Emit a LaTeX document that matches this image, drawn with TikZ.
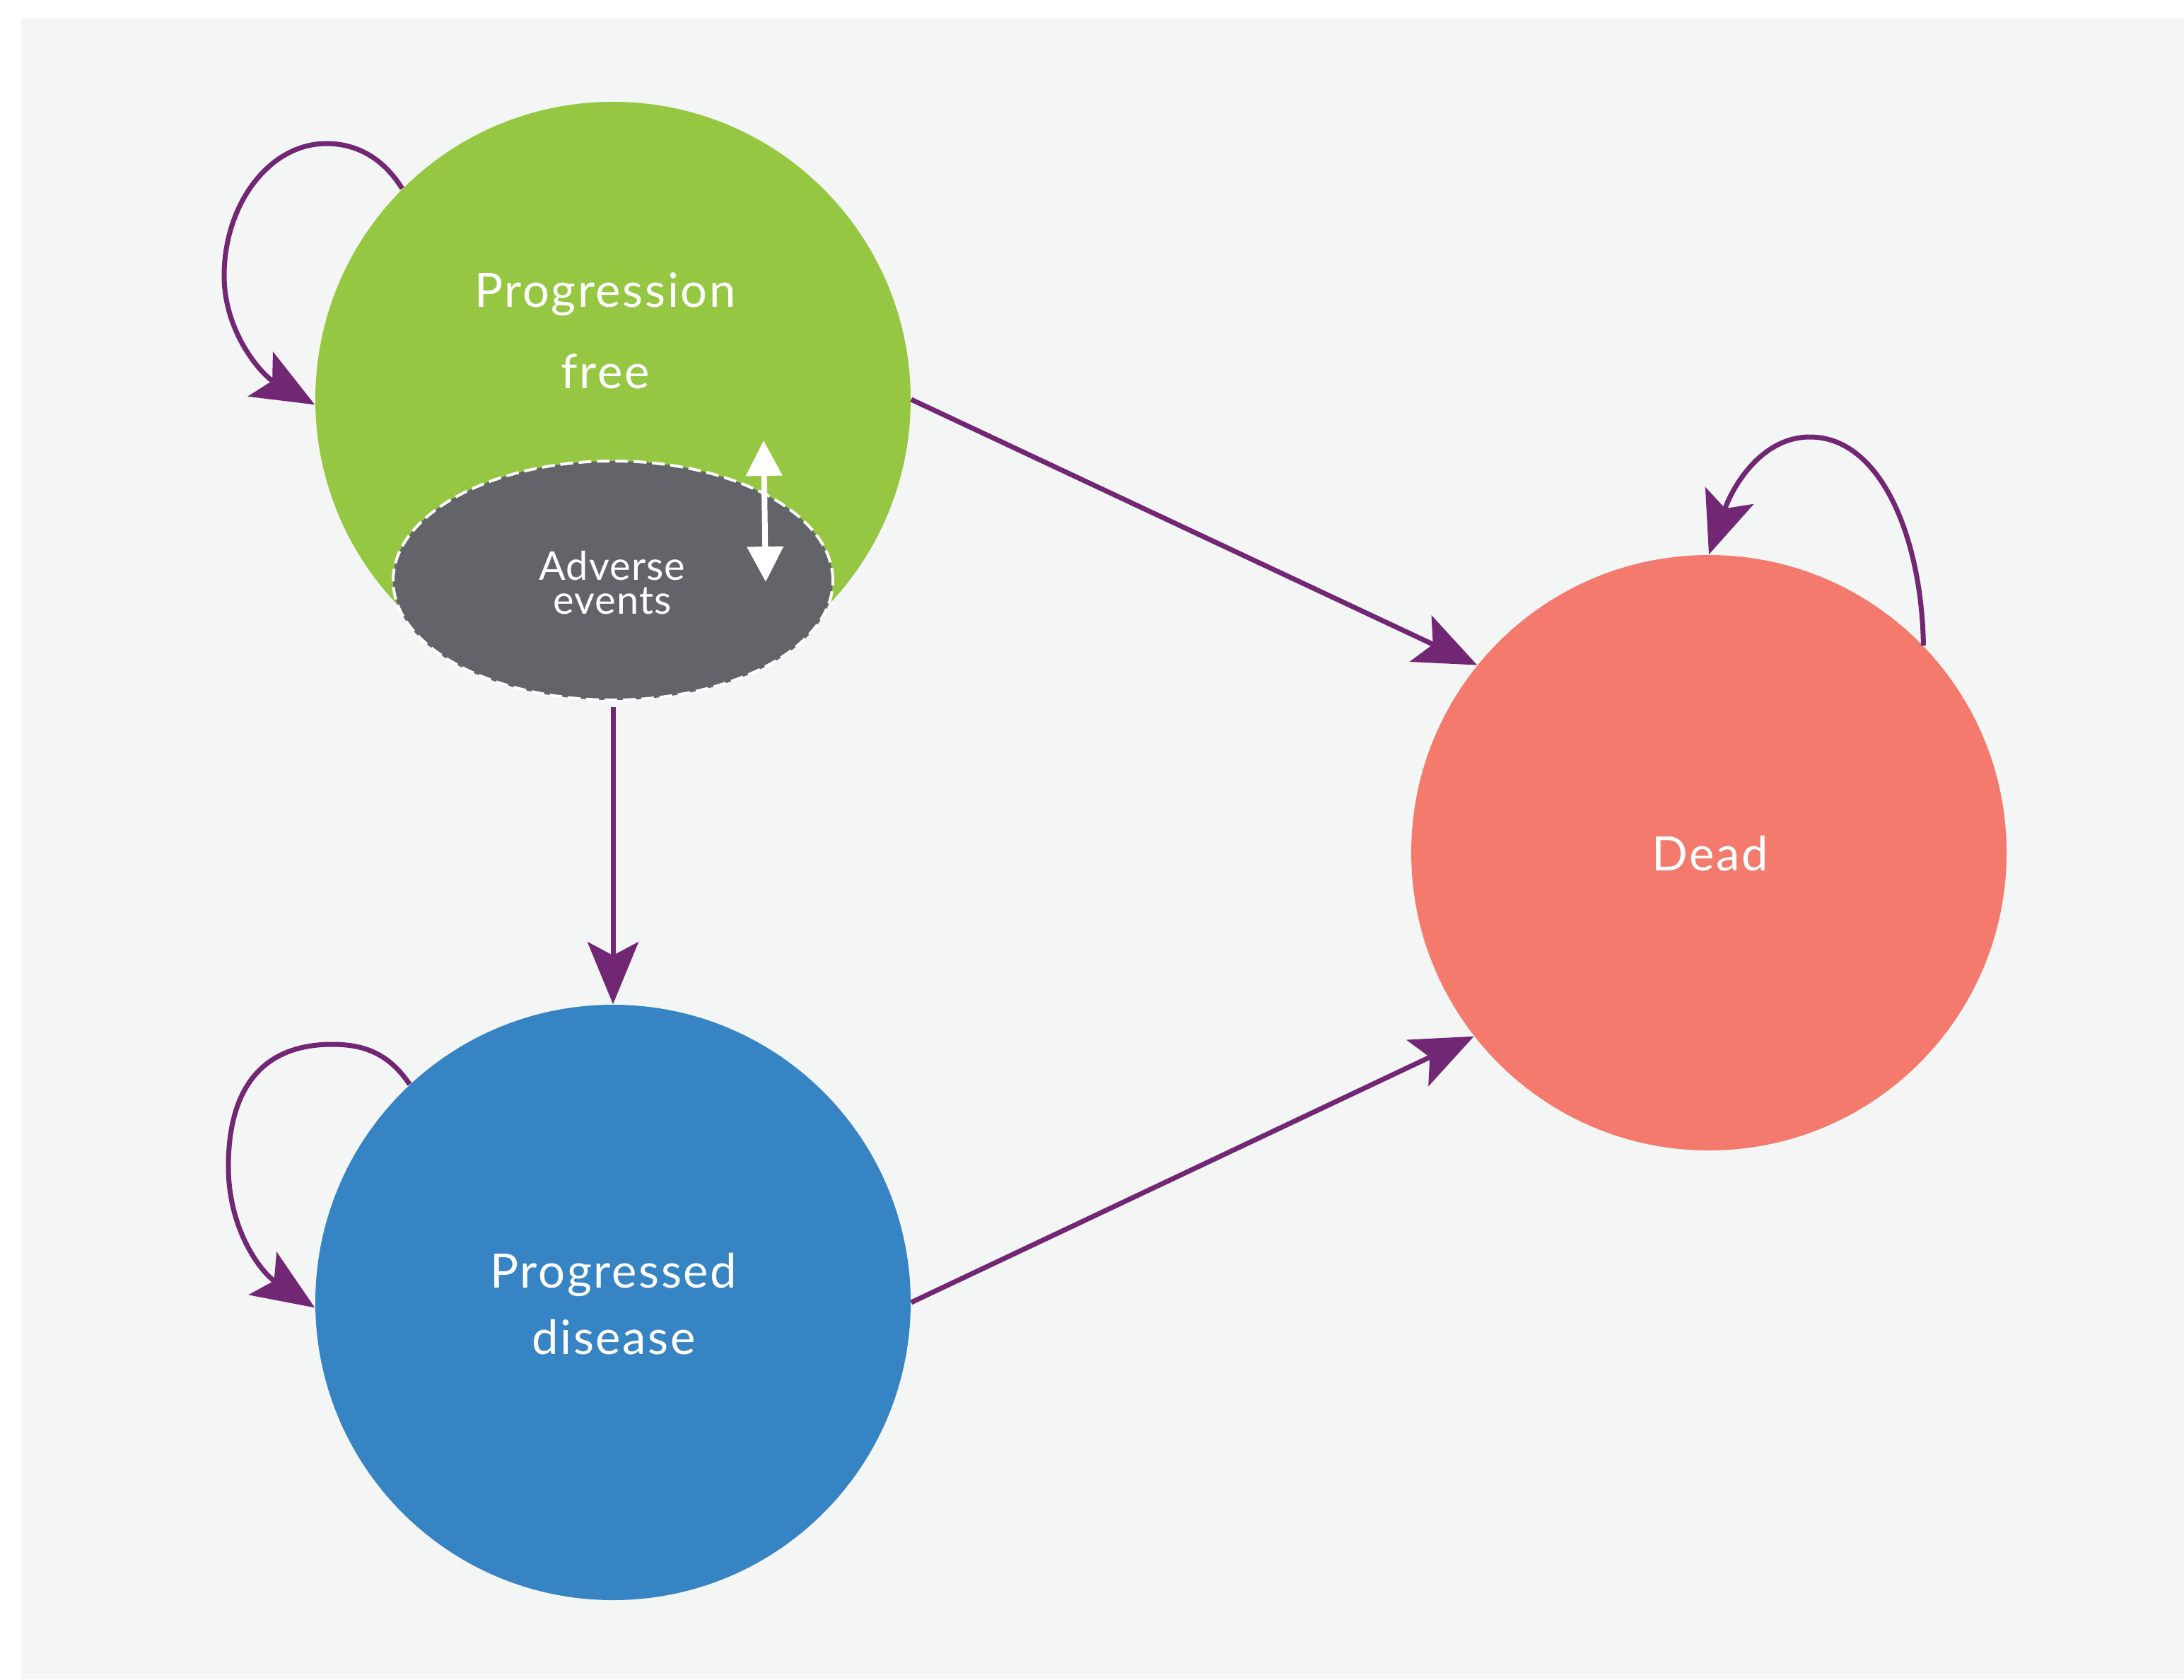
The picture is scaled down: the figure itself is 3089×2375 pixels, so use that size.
\documentclass[tikz,border=0pt]{standalone}
\usepackage{fontspec}
\setmainfont{Lato}
\newfontfamily\labelfont[LetterSpace=4]{Lato}
\newfontfamily\smalllabelfont[LetterSpace=2]{Lato}
\usetikzlibrary{arrows.meta,shapes.geometric}
\definecolor{bgc}{HTML}{F4F6F5}
\definecolor{pfgreen}{HTML}{95C742}
\definecolor{pdblue}{HTML}{3784C4}
\definecolor{deadred}{HTML}{F37A6C}
\definecolor{aegray}{HTML}{636469}
\definecolor{arrpurple}{HTML}{722775}
\begin{document}
\begin{tikzpicture}[x=0.25pt,y=-0.25pt,
  state/.style={circle,inner sep=0pt,minimum size=210.5pt},
  lbl/.style={text=white,anchor=base,inner sep=0pt,font=\labelfont\fontsize{16.75pt}{20pt}\selectfont},
  smalllbl/.style={text=white,anchor=base,inner sep=0pt,font=\smalllabelfont\fontsize{14pt}{16pt}\selectfont},
  conn/.style={draw=arrpurple,fill=arrpurple,line width=1.75pt,-{Stealth[length=22pt,width=18pt,inset=4.75pt]}},
  wtip/.tip={Triangle[length=12.5pt,width=12.5pt]}]
\fill[white] (0,0) rectangle (3089,2375);
\fill[bgc] (30,26) rectangle (3089,2375);
\useasboundingbox (0,0) rectangle (3089,2375);
% states
\node[state,fill=pfgreen] (pf) at (867,565) {};
\node[state,fill=pdblue] (pd) at (867,1842) {};
\node[state,fill=deadred] (dead) at (2417,1206) {};
\node[ellipse,fill=aegray,draw=white,dash pattern=on 4.5pt off 2pt,line width=1pt,
      minimum width=155.5pt,minimum height=84.5pt,inner sep=0pt] (ae) at (867,821) {};
% labels
\node[lbl] (t1) at (856,434) {Progression};
\node[lbl] (t2) at (856,549) {free};
\node[lbl] (t3) at (868,1821) {Progressed};
\node[lbl] (t4) at (868,1915) {disease};
\node[lbl] (t5) at (2419,1231) {Dead};
\node[smalllbl] (t6) at (866,820) {Adverse};
\node[smalllbl] (t7) at (866,868) {events};
% white double arrow
\coordinate (wa) at (1080,623);
\coordinate (wb) at (1083,823);
\draw[white,line width=2pt,{wtip}-{wtip}] (wa) -- (wb);
% transitions
\draw[conn,shorten <=2pt] (ae.south) -- (pd.north);
\draw[conn] (pf.east) -- (dead.141);
\draw[conn] (pd.east) -- (dead.218);
% self loops
\draw[conn,fill=none] (pf.135) .. controls (540,220) and (500,203) .. (462,203)
   .. controls (380,203) and (317,290) .. (317,390)
   .. controls (317,470) and (370,530) .. (pf.181);
\draw[conn,fill=none] (pd.133) .. controls (550,1490) and (515,1477) .. (470,1477)
   .. controls (370,1477) and (323,1540) .. (323,1650)
   .. controls (323,1740) and (370,1800) .. (pd.181);
\draw[conn,fill=none] (dead.44.6) .. controls (2718,760) and (2660,618) .. (2560,618)
   .. controls (2490,618) and (2450,690) .. (dead.90);
\end{tikzpicture}
\end{document}
